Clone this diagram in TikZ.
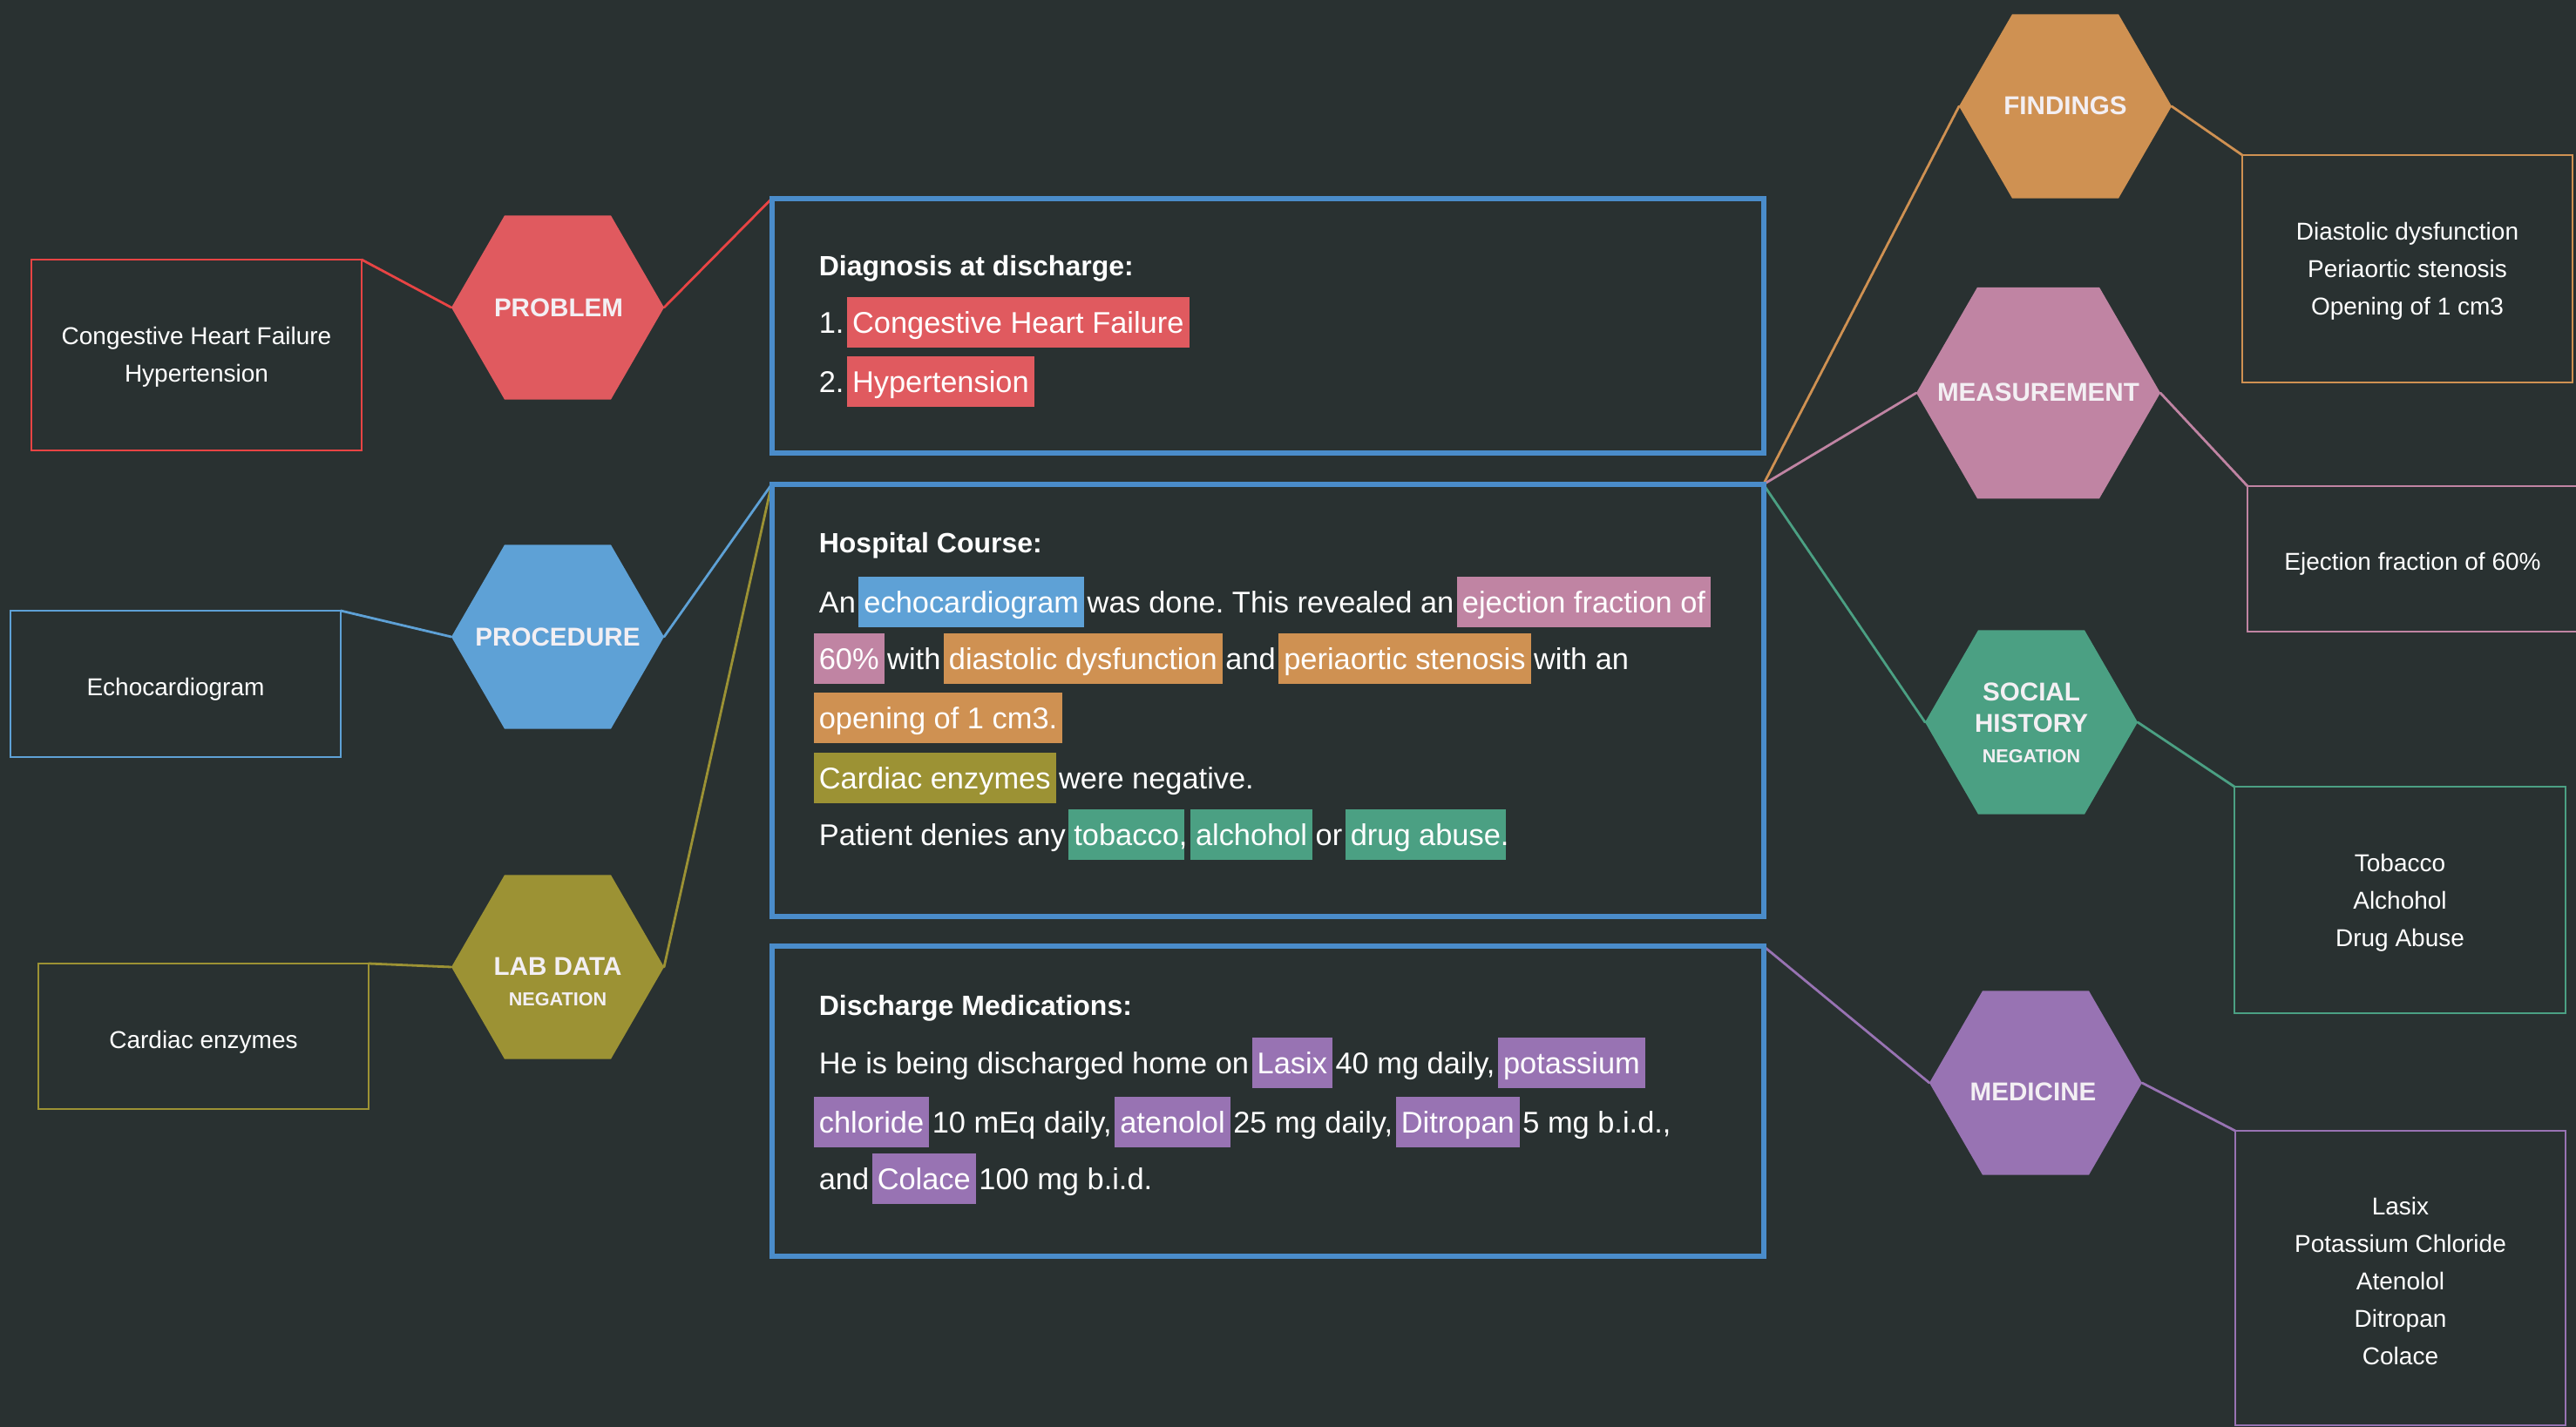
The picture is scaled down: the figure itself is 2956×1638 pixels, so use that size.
\documentclass[tikz,border=0pt]{standalone}
\usepackage{fontspec}
\setmainfont{Liberation Sans}
\usetikzlibrary{shapes.geometric}
\definecolor{bgc}{HTML}{293131}
\definecolor{cred}{HTML}{E05A5F}
\definecolor{lred}{HTML}{E84444}
\definecolor{cblue}{HTML}{5EA1D6}
\definecolor{mainblue}{HTML}{4A8CCA}
\definecolor{colive}{HTML}{9C9234}
\definecolor{corange}{HTML}{CF9152}
\definecolor{cpink}{HTML}{C084A3}
\definecolor{cgreen}{HTML}{4BA083}
\definecolor{cpurple}{HTML}{9873B3}
\definecolor{hexwhite}{HTML}{F3EFF3}
\pgfdeclarelayer{back}
\pgfdeclarelayer{wires}
\pgfsetlayers{back,wires,main}
\newcommand\hl[2]{{\setlength\fboxsep{0pt}\kern-1.5pt\colorbox{#1}{\rule[-4.25pt]{0pt}{14.5pt}\kern1.5pt#2\kern1.5pt}\kern-1.5pt}}
\frenchspacing
\begin{document}
\begin{tikzpicture}[x=0.25pt,y=-0.25pt,
  hexa/.style={regular polygon, regular polygon sides=6, minimum size=61pt, inner sep=0pt, outer sep=0pt, draw=none},
  hexlabel/.style={text=hexwhite, font=\bfseries\fontsize{7.4}{8}\selectfont, inner sep=0pt},
  neglabel/.style={text=hexwhite, font=\bfseries\fontsize{5.4}{6}\selectfont, inner sep=0pt},
  sidebox/.style={draw, line width=0.7pt, minimum width=94.75pt, inner sep=0pt, outer sep=0pt},
  boxtext/.style={inner sep=0pt, align=center, text=white, font=\fontsize{7}{10.75}\selectfont},
  mainbox/.style={draw=mainblue, line width=1.5pt, minimum width=284.5pt, inner sep=0pt, outer sep=0pt},
  bodytext/.style={anchor=base west, inner sep=0pt, text=white, font=\fontsize{8.6}{10}\selectfont},
  titletext/.style={bodytext, font=\bfseries\fontsize{8.0}{10}\selectfont},
  wire/.style={line width=0.7pt, line cap=round},
]
\begin{pgfonlayer}{back}
\fill[bgc] (0,0) rectangle (2956,1638);
\end{pgfonlayer}
\useasboundingbox (0,0) rectangle (2956,1638);

% central boxes
\node[mainbox, minimum height=73pt] (A) at (1454.5,374) {};
\node[mainbox, minimum height=124pt] (B) at (1454.5,804) {};
\node[mainbox, minimum height=89pt] (C) at (1454.5,1264) {};

% box A text
\node[titletext] (a0) at (939,316) {Diagnosis at discharge:};
\node[bodytext] (a1) at (939,382) {1. \hl{cred}{Congestive Heart Failure}};
\node[bodytext] (a2) at (939,450) {2. \hl{cred}{Hypertension}};

% box B text
\node[titletext] (b0) at (939,634) {Hospital Course:};
\node[bodytext] (b1) at (939,703) {An \hl{cblue}{echocardiogram} was done. This revealed an \hl{cpink}{ejection fraction of}};
\node[bodytext] (b2) at (939,768) {\hl{cpink}{60\%} with \hl{corange}{diastolic dysfunction} and \hl{corange}{periaortic stenosis} with an};
\node[bodytext] (b3) at (939,836) {\hl{corange}{opening of 1 cm3.}};
\node[bodytext] (b4) at (939,905) {\hl{colive}{Cardiac enzymes} were negative.};
\node[bodytext] (b5) at (939,970) {Patient denies any \hl{cgreen}{tobacco}, \hl{cgreen}{alchohol} or \hl{cgreen}{drug abuse}.};

% box C text
\node[titletext] (c0) at (939,1165) {Discharge Medications:};
\node[bodytext] (c1) at (939,1232) {He is being discharged home on \hl{cpurple}{Lasix} 40 mg daily, \hl{cpurple}{potassium}};
\node[bodytext] (c2) at (939,1300) {\hl{cpurple}{chloride} 10 mEq daily, \hl{cpurple}{atenolol} 25 mg daily, \hl{cpurple}{Ditropan} 5 mg b.i.d.,};
\node[bodytext] (c3) at (939,1365) {and \hl{cpurple}{Colace} 100 mg b.i.d.};

% hexagons left
\node[hexa, fill=cred] (hProb) at (640,353) {};
\node[hexlabel] (lProb) at (641,353) {PROBLEM};
\node[hexa, fill=cblue] (hProc) at (640,731) {};
\node[hexlabel] (lProc) at (640,731) {PROCEDURE};
\node[hexa, fill=colive] (hLab) at (640,1110) {};
\node[hexlabel] (lLab) at (640,1109) {LAB DATA};
\node[neglabel] (nLab) at (640,1147) {NEGATION};

% hexagons right
\node[hexa, fill=corange] (hFind) at (2370,122) {};
\node[hexlabel] (lFind) at (2370,121) {FINDINGS};
\node[hexa, fill=cpink, minimum size=70pt] (hMeas) at (2339,451) {};
\node[hexlabel] (lMeas) at (2339,450) {MEASUREMENT};
\node[hexa, fill=cgreen] (hSoc) at (2331,829) {};
\node[hexlabel] (lSoc1) at (2331,794) {SOCIAL};
\node[hexlabel] (lSoc2) at (2331,830) {HISTORY};
\node[neglabel] (nSoc) at (2331,868) {NEGATION};
\node[hexa, fill=cpurple] (hMed) at (2336,1243) {};
\node[hexlabel] (lMed) at (2333,1253) {MEDICINE};

% side boxes
\node[sidebox, draw=lred, minimum height=54.75pt] (probBox) at (225.5,407.5) {};
\node[boxtext] (probTxt) at ([yshift=-0.6pt]probBox.center) {Congestive Heart Failure\\Hypertension};
\node[sidebox, draw=cblue, minimum height=42pt] (procBox) at (201.5,785) {};
\node[boxtext] (procTxt) at ([yshift=-1.5pt]procBox.center) {Echocardiogram};
\node[sidebox, draw=colive, minimum height=41.75pt] (labBox) at (233.5,1189.5) {};
\node[boxtext] (labTxt) at ([yshift=-1.7pt]labBox.center) {Cardiac enzymes};
\node[sidebox, draw=corange, minimum height=65.25pt] (findBox) at (2762.5,308.5) {};
\node[boxtext] (findTxt) at ([yshift=-0.6pt]findBox.center) {Diastolic dysfunction\\Periaortic stenosis\\Opening of 1 cm3};
\node[sidebox, draw=cpink, minimum height=41.75pt] (measBox) at (2768.5,641.5) {};
\node[boxtext] (measTxt) at ([yshift=-1.4pt]measBox.center) {Ejection fraction of 60\%};
\node[sidebox, draw=cgreen, minimum height=65pt, minimum width=95pt] (socBox) at (2754,1033) {};
\node[boxtext] (socTxt) at ([yshift=-0.9pt]socBox.center) {Tobacco\\Alchohol\\Drug Abuse};
\node[sidebox, draw=cpurple, minimum height=84.5pt] (medBox) at (2754.5,1467) {};
\node[boxtext] (medTxt) at ([yshift=-0.9pt]medBox.center) {Lasix\\Potassium Chloride\\Atenolol\\Ditropan\\Colace};

\begin{pgfonlayer}{wires}
\draw[wire, lred] (probBox.north east) -- (hProb.west);
\draw[wire, lred] (hProb.east) -- (A.north west);
\draw[wire, cblue] (procBox.north east) -- (hProc.west);
\draw[wire, cblue] (hProc.east) -- (B.north west);
\draw[wire, colive] (labBox.north east) -- (hLab.west);
\draw[wire, colive] (hLab.east) -- (B.north west);
\draw[wire, corange] (B.north east) -- (hFind.west);
\draw[wire, corange] (hFind.east) -- (findBox.north west);
\draw[wire, cpink] (B.north east) -- (hMeas.west);
\draw[wire, cpink] (hMeas.east) -- (measBox.north west);
\draw[wire, cgreen] (B.north east) -- (hSoc.west);
\draw[wire, cgreen] (hSoc.east) -- (socBox.north west);
\draw[wire, cpurple] (C.north east) -- (hMed.west);
\draw[wire, cpurple] (hMed.east) -- (medBox.north west);
\end{pgfonlayer}
\end{tikzpicture}
\end{document}
